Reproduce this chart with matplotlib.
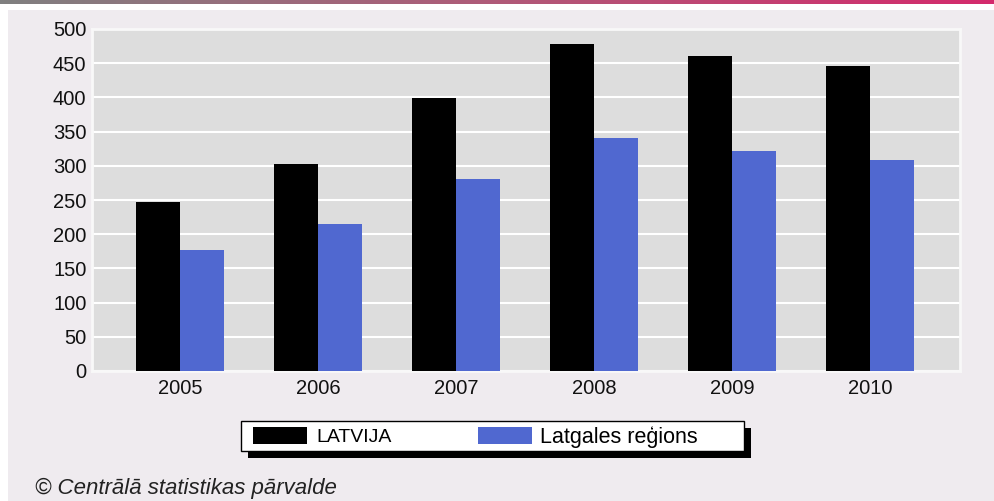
import numpy as np
import matplotlib
matplotlib.use("Agg")
import matplotlib.pyplot as plt
from matplotlib.patches import Rectangle

years = ["2005", "2006", "2007", "2008", "2009", "2010"]
latvija = [247, 303, 399, 478, 461, 446]
latgale = [177, 215, 280, 341, 321, 309]

plt.rcParams['font.family'] = ['Liberation Sans', 'DejaVu Sans']

fig = plt.figure(figsize=(9.94, 5.01), dpi=100)
fig.patch.set_facecolor('white')

# top gradient strip
grad = fig.add_axes([0, 1 - 4 / 501, 1, 4 / 501])
g = np.linspace(0, 1, 256).reshape(1, -1)
cmap = matplotlib.colors.LinearSegmentedColormap.from_list("strip", ["#808080", "#b05a78", "#d42a6c"])
grad.imshow(g, aspect='auto', cmap=cmap, extent=[0, 1, 0, 1])
grad.axis('off')

# light panel behind the chart
fig.patches.append(Rectangle((8 / 994, 0), 1, 1 - 10 / 501, transform=fig.transFigure,
                             facecolor='#efebef', edgecolor='none', zorder=-10))

ax = fig.add_axes([92 / 994, 1 - 371 / 501, 868 / 994, 342 / 501])
ax.set_facecolor('#dddddd')
x = np.arange(len(years))
w = 0.32
ax.bar(x - w / 2, latvija, w, color='black', zorder=3)
ax.bar(x + w / 2, latgale, w, color='#5068d0', zorder=3)

ax.set_xlim(-0.64, 5.65)
ax.set_ylim(0, 500)
ax.set_yticks(range(0, 501, 50))
ax.set_xticks(x)
ax.set_xticklabels(years)
ax.grid(axis='y', color='white', linewidth=1.5, zorder=1)
ax.tick_params(length=0, labelsize=14.5, colors='#111111', pad=4)
ax.tick_params(axis='x', pad=6)
for s in ax.spines.values():
    s.set_color('#f8f8f8')
    s.set_linewidth(2)

# legend with drop shadow
lx0, ly0, lw, lh = 241 / 994, 1 - 451 / 501, 503 / 994, 30 / 501
fig.patches.append(Rectangle((lx0 + 7 / 994, ly0 - 7 / 501), lw, lh, transform=fig.transFigure,
                             facecolor='black', edgecolor='none', zorder=1))
fig.patches.append(Rectangle((lx0, ly0), lw, lh, transform=fig.transFigure,
                             facecolor='white', edgecolor='black', linewidth=1, zorder=2))
fig.patches.append(Rectangle((253 / 994, 1 - 444 / 501), 54 / 994, 17 / 501, transform=fig.transFigure,
                             facecolor='black', zorder=3))
fig.patches.append(Rectangle((478 / 994, 1 - 444 / 501), 54 / 994, 17 / 501, transform=fig.transFigure,
                             facecolor='#5068d0', zorder=3))
fig.text(316 / 994, 1 - 437 / 501, "LATVIJA", fontsize=14, va='center', zorder=4)
fig.text(540 / 994, 1 - 437 / 501, "Latgales reģions", fontsize=15.5, va='center', zorder=4)

fig.text(35 / 994, 1 - 488 / 501, "© Centrālā statistikas pārvalde", fontsize=16,
         style='italic', va='center', color='#222222')

fig.savefig("out.png", dpi=100, facecolor=fig.get_facecolor())
